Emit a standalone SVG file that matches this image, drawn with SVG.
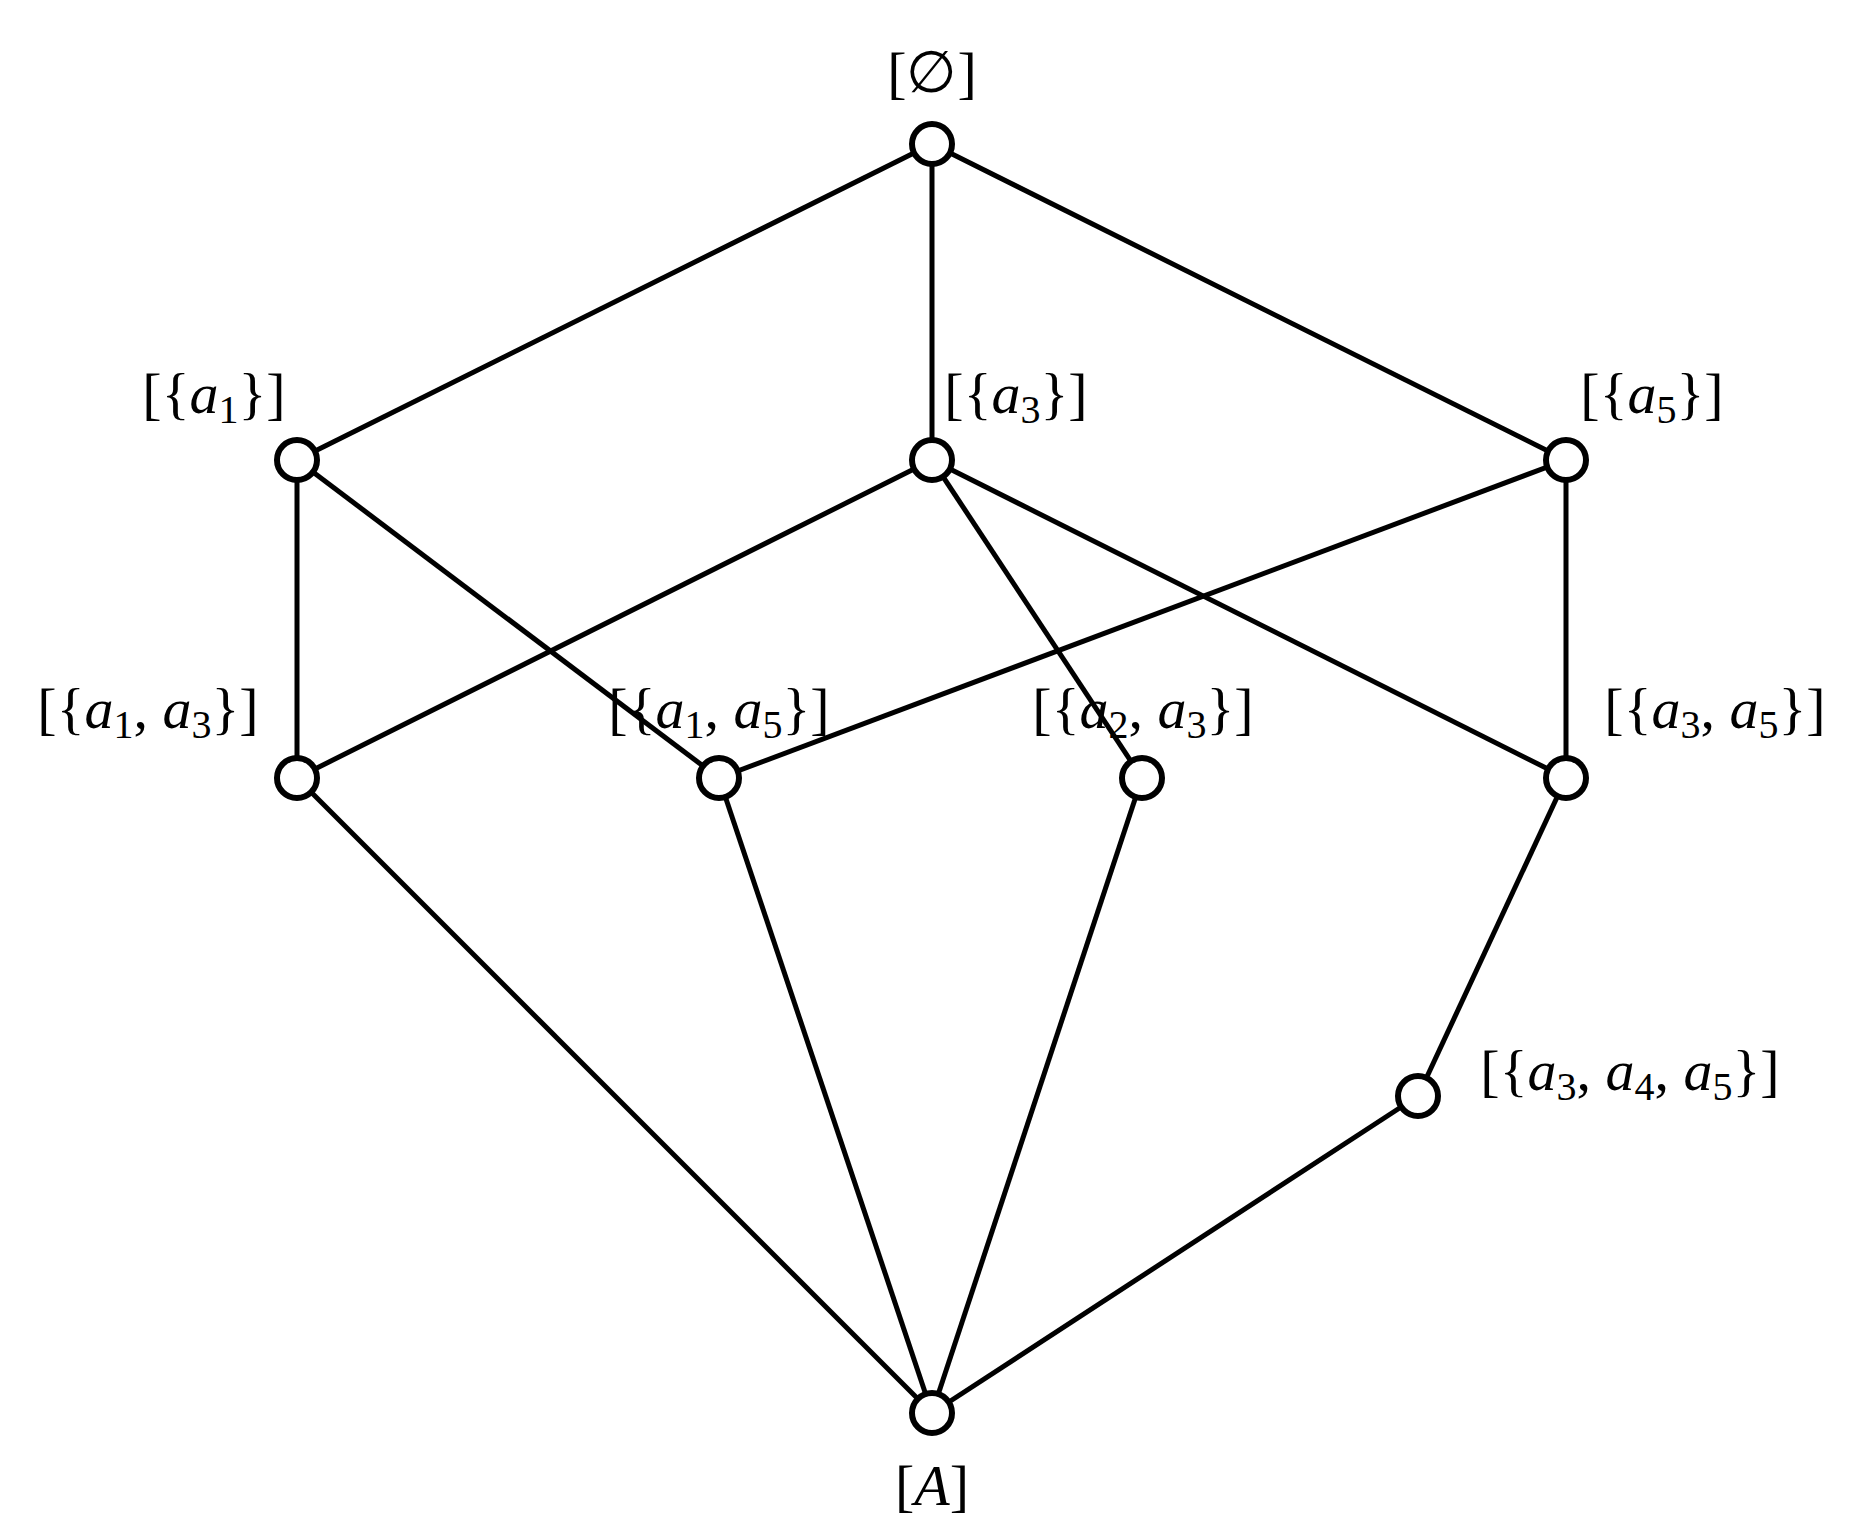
<svg xmlns="http://www.w3.org/2000/svg" width="1854" height="1535" viewBox="0 0 1854 1535">
<style>
.e{stroke:#000;stroke-width:5;fill:none}
.n{fill:#fff;stroke:#000;stroke-width:6}
text{font-family:"Liberation Serif",serif;font-size:58px;text-anchor:middle;fill:#000}
.i{font-style:italic}
.s{font-size:40px}
</style>
<rect width="1854" height="1535" fill="#fff"/>
<g id="edges">
<line class="e" x1="932" y1="144" x2="297" y2="460"/>
<line class="e" x1="932" y1="144" x2="932" y2="460"/>
<line class="e" x1="932" y1="144" x2="1566" y2="460"/>
<line class="e" x1="297" y1="460" x2="297" y2="778"/>
<line class="e" x1="297" y1="460" x2="719" y2="778"/>
<line class="e" x1="932" y1="460" x2="297" y2="778"/>
<line class="e" x1="932" y1="460" x2="1142" y2="778"/>
<line class="e" x1="932" y1="460" x2="1566" y2="778"/>
<line class="e" x1="1566" y1="460" x2="719" y2="778"/>
<line class="e" x1="1566" y1="460" x2="1566" y2="778"/>
<line class="e" x1="297" y1="778" x2="932" y2="1413"/>
<line class="e" x1="719" y1="778" x2="932" y2="1413"/>
<line class="e" x1="1142" y1="778" x2="932" y2="1413"/>
<line class="e" x1="1566" y1="778" x2="1418" y2="1096"/>
<line class="e" x1="1418" y1="1096" x2="932" y2="1413"/>
</g>
<g id="n0"><circle class="n" cx="932" cy="144" r="20"/><text x="932" y="92">[∅]</text></g>
<g id="n1"><circle class="n" cx="297" cy="460" r="20"/><text x="214" y="413">[{<tspan class="i">a</tspan><tspan class="s" dy="10">1</tspan><tspan dy="-10">}]</tspan></text></g>
<g id="n2"><circle class="n" cx="932" cy="460" r="20"/><text x="1016" y="413">[{<tspan class="i">a</tspan><tspan class="s" dy="10">3</tspan><tspan dy="-10">}]</tspan></text></g>
<g id="n3"><circle class="n" cx="1566" cy="460" r="20"/><text x="1652" y="413">[{<tspan class="i">a</tspan><tspan class="s" dy="10">5</tspan><tspan dy="-10">}]</tspan></text></g>
<g id="n4"><circle class="n" cx="297" cy="778" r="20"/><text x="148" y="728">[{<tspan class="i">a</tspan><tspan class="s" dy="10">1</tspan><tspan dy="-10">, </tspan><tspan class="i">a</tspan><tspan class="s" dy="10">3</tspan><tspan dy="-10">}]</tspan></text></g>
<g id="n5"><circle class="n" cx="719" cy="778" r="20"/><text x="719" y="728">[{<tspan class="i">a</tspan><tspan class="s" dy="10">1</tspan><tspan dy="-10">, </tspan><tspan class="i">a</tspan><tspan class="s" dy="10">5</tspan><tspan dy="-10">}]</tspan></text></g>
<g id="n6"><circle class="n" cx="1142" cy="778" r="20"/><text x="1143" y="728">[{<tspan class="i">a</tspan><tspan class="s" dy="10">2</tspan><tspan dy="-10">, </tspan><tspan class="i">a</tspan><tspan class="s" dy="10">3</tspan><tspan dy="-10">}]</tspan></text></g>
<g id="n7"><circle class="n" cx="1566" cy="778" r="20"/><text x="1715" y="728">[{<tspan class="i">a</tspan><tspan class="s" dy="10">3</tspan><tspan dy="-10">, </tspan><tspan class="i">a</tspan><tspan class="s" dy="10">5</tspan><tspan dy="-10">}]</tspan></text></g>
<g id="n8"><circle class="n" cx="1418" cy="1096" r="20"/><text x="1630" y="1090">[{<tspan class="i">a</tspan><tspan class="s" dy="10">3</tspan><tspan dy="-10">, </tspan><tspan class="i">a</tspan><tspan class="s" dy="10">4</tspan><tspan dy="-10">, </tspan><tspan class="i">a</tspan><tspan class="s" dy="10">5</tspan><tspan dy="-10">}]</tspan></text></g>
<g id="n9"><circle class="n" cx="932" cy="1413" r="20"/><text x="932" y="1505">[<tspan class="i">A</tspan>]</text></g>
</svg>
